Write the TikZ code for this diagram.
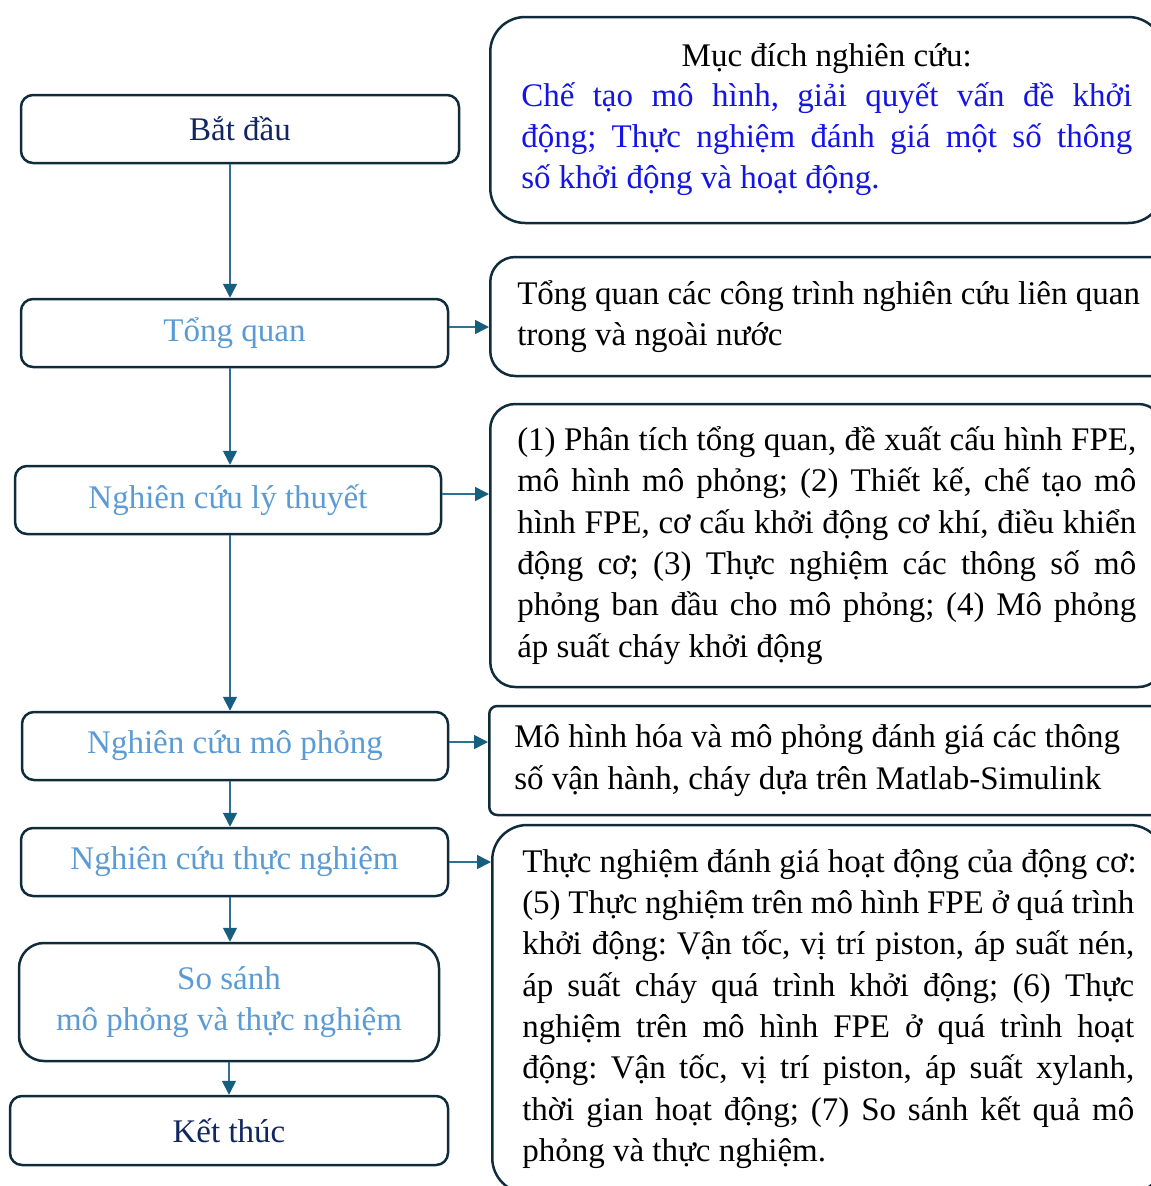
\documentclass[tikz,border=0pt]{standalone}
\usepackage{fontspec}
\setmainfont{Liberation Serif}
\usetikzlibrary{arrows.meta}
\definecolor{boxline}{RGB}{16,44,60}
\definecolor{arrline}{RGB}{46,114,146}
\definecolor{arrhead}{RGB}{22,94,126}
\definecolor{navytext}{RGB}{16,38,96}
\definecolor{lightblue}{RGB}{91,155,213}
\definecolor{aimblue}{RGB}{20,20,230}
\frenchspacing
\newcommand{\bigfont}{\fontsize{33}{41.3}\selectfont}
\newcommand{\natsp}{\spaceskip=0pt\xspaceskip=0pt\relax}
\newcommand{\jline}[1]{\makebox[\hsize][s]{\natsp #1}}

\begin{document}
\begin{tikzpicture}[x=1pt, y=-1pt,
  flowbox/.style={draw=boxline, line width=2.5pt, rounded corners=12pt, minimum height=68pt,
    inner sep=0pt, font=\bigfont, text=lightblue, align=center},
  notebox/.style={draw=boxline, line width=2.5pt, anchor=west, font=\bigfont, text=black,
    inner ysep=0pt, align=left, execute at begin node=\natsp},
  arr/.style={draw=arrline, line width=1.6pt, -{Triangle[length=14pt, width=14pt, color=arrhead]}}]
\clip (0,0) rectangle (1151,1186);
\node[flowbox, minimum width=438pt, text=navytext] (start) at (240,129) {Bắt đầu};
\node[flowbox, minimum width=427pt] (tq) at (234.5,333) {Tổng quan};
\node[flowbox, minimum width=426pt] (lt) at (228,500) {Nghiên cứu lý thuyết};
\node[flowbox, minimum width=426pt] (mp) at (235,746) {Nghiên cứu mô phỏng};
\node[flowbox, minimum width=427pt] (tn) at (234.5,862) {Nghiên cứu thực nghiệm};
\node[flowbox, minimum width=420pt, minimum height=118pt, rounded corners=25pt] (ss) at (229,1002)
  {So sánh\\mô phỏng và thực nghiệm};
\node[flowbox, minimum width=438pt, minimum height=69pt, text=navytext] (kt) at (229,1130.5) {Kết thúc};

\node[notebox, rounded corners=35pt, minimum height=206pt, text width=611pt, inner xsep=31pt] (aim) at (489,120)
  {\makebox[\hsize]{Mục đích nghiên cứu:}\\[-2pt]
   \color{aimblue}\jline{Chế tạo mô hình, giải quyết vấn đề khởi}\\
   \jline{động; Thực nghiệm đánh giá một số thông}\\
   số khởi động và hoạt động.};
\node[notebox, rounded corners=25pt, minimum height=119pt, text width=640pt, inner xsep=27pt] (ntq) at (489,316.5)
  {Tổng quan các công trình nghiên cứu liên quan\\
   trong và ngoài nước};
\node[notebox, rounded corners=25pt, minimum height=283pt, text width=619pt, inner xsep=27pt] (nlt) at (489,545.5)
  {\jline{(1) Phân tích tổng quan, đề xuất cấu hình FPE,}\\
   \jline{mô hình mô phỏng; (2) Thiết kế, chế tạo mô}\\
   \jline{hình FPE, cơ cấu khởi động cơ khí, điều khiển}\\
   \jline{động cơ; (3) Thực nghiệm các thông số mô}\\
   \jline{phỏng ban đầu cho mô phỏng; (4) Mô phỏng}\\
   áp suất cháy khởi động};
\node[notebox, rounded corners=8pt, minimum height=109pt, text width=640pt, inner xsep=25pt] (nmp) at (488,760.5)
  {Mô hình hóa và mô phỏng đánh giá các thông\\
   số vận hành, cháy dựa trên Matlab-Simulink};
\node[notebox, rounded corners=35pt, minimum height=368pt, text width=612pt, inner xsep=30pt] (ntn) at (491,1009)
  {\makebox[\hsize][l]{Thực nghiệm đánh giá hoạt động của động cơ:}\\
   \jline{(5) Thực nghiệm trên mô hình FPE ở quá trình}\\
   \jline{khởi động: Vận tốc, vị trí piston, áp suất nén,}\\
   \jline{áp suất cháy quá trình khởi động; (6) Thực}\\
   \jline{nghiệm trên mô hình FPE ở quá trình hoạt}\\
   \jline{động: Vận tốc, vị trí piston, áp suất xylanh,}\\
   \jline{thời gian hoạt động; (7) So sánh kết quả mô}\\
   phỏng và thực nghiệm.};

\coordinate (ax) at (230,0);
\draw[arr] (start.south -| ax) -- (tq.north -| ax);
\draw[arr] (tq.south -| ax) -- (lt.north -| ax);
\draw[arr] (lt.south -| ax) -- (mp.north -| ax);
\draw[arr] (mp.south -| ax) -- (tn.north -| ax);
\draw[arr] (tn.south -| ax) -- (ss.north -| ax);
\draw[arr] (ss.south) -- (ss.south |- kt.north);
\draw[arr] ([yshift=6pt]tq.east) -- ([yshift=6pt]tq.east -| ntq.west);
\draw[arr] ([yshift=6pt]lt.east) -- ([yshift=6pt]lt.east -| nlt.west);
\draw[arr] ([yshift=4pt]mp.east) -- ([yshift=4pt]mp.east -| nmp.west);
\draw[arr] (tn.east) -- (tn.east -| ntn.west);
\end{tikzpicture}
\end{document}
